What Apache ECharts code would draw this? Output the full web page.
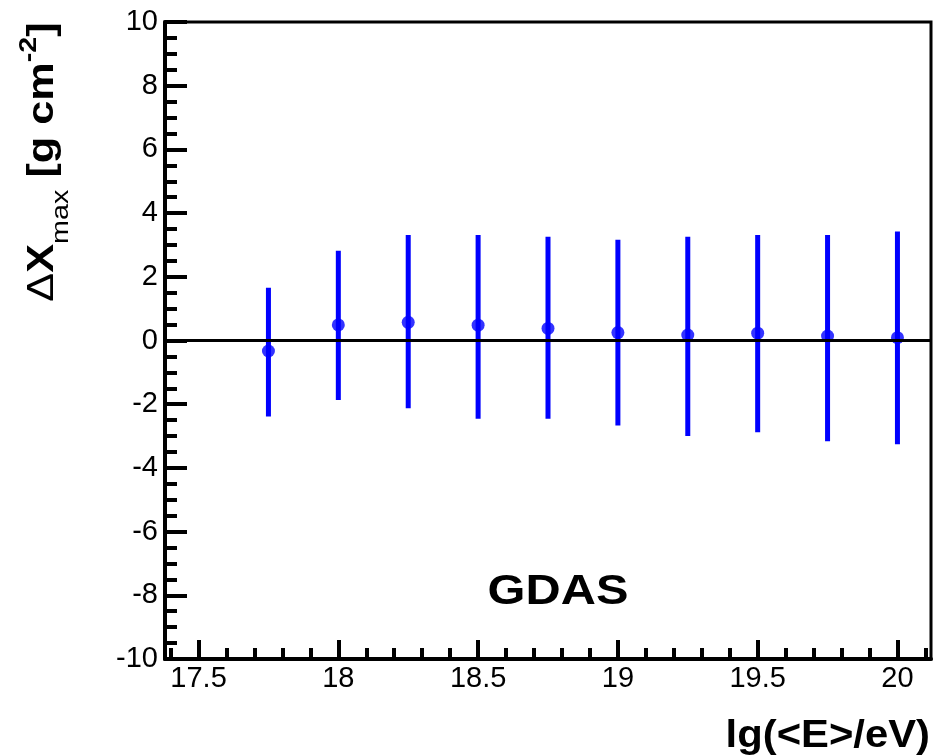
<!DOCTYPE html>
<html>
<head>
<meta charset="utf-8">
<script src="https://cdn.jsdelivr.net/npm/echarts@6/dist/echarts.min.js"></script>
<style>
  html, body { margin: 0; padding: 0; background: #fff; }
  #chart { width: 942px; height: 756px; }
</style>
</head>
<body>
<div id="chart"></div>
<script>
// Energy bins, lg(<E>/eV)
const energies = [17.75, 18.0, 18.25, 18.5, 18.75, 19.0, 19.25, 19.5, 19.75, 20.0];
// Mean shift of Xmax, g/cm^2
const deltaXmax = [-0.33, 0.49, 0.57, 0.48, 0.38, 0.25, 0.17, 0.23, 0.14, 0.09];
// Lower / upper end of each error bar, g/cm^2
const errLow  = [-2.39, -1.87, -2.13, -2.46, -2.46, -2.67, -3.00, -2.88, -3.16, -3.26];
const errHigh = [ 1.66,  2.82,  3.31,  3.31,  3.26,  3.16,  3.26,  3.31,  3.31,  3.42];

// Axis ticks
const xMajorTicks = [17.5, 18, 18.5, 19, 19.5, 20];
const xMinorTicks = [17.4, 17.6, 17.7, 17.8, 17.9, 18.1, 18.2, 18.3, 18.4, 18.6, 18.7, 18.8, 18.9,
                     19.1, 19.2, 19.3, 19.4, 19.6, 19.7, 19.8, 19.9, 20.1];
const xRange = [17.38, 20.12];
const yRange = [-10, 10];

const FONT = "'Liberation Sans', Arial, Helvetica, sans-serif";
const BLUE = '#0000ff';

const chart = echarts.init(document.getElementById('chart'), null, { renderer: 'canvas' });

const option = {
  animation: false,
  backgroundColor: '#fff',
  textStyle: { fontFamily: FONT },
  grid: {
    left: 165, right: 11, top: 22, bottom: 97,
    show: true, borderColor: '#000', borderWidth: 3, backgroundColor: 'transparent'
  },
  xAxis: [
    {
      type: 'value', min: xRange[0], max: xRange[1], position: 'bottom',
      splitLine: { show: false },
      axisLine: { show: true, onZero: false, lineStyle: { color: '#000', width: 4 } },
      axisTick: { show: true, inside: true, length: 19, lineStyle: { color: '#000', width: 4 },
                  customValues: xMajorTicks },
      axisLabel: { show: true, customValues: xMajorTicks, color: '#000', fontSize: 29,
                   fontFamily: FONT, margin: 5 }
    },
    {
      type: 'value', min: xRange[0], max: xRange[1], position: 'bottom', offset: 0,
      splitLine: { show: false },
      axisLine: { show: false, onZero: false },
      axisTick: { show: true, inside: true, length: 11, lineStyle: { color: '#000', width: 4 },
                  customValues: xMinorTicks },
      axisLabel: { show: false }
    }
  ],
  yAxis: {
    type: 'value', min: yRange[0], max: yRange[1], interval: 2,
    splitLine: { show: false },
    axisLine: { show: true, onZero: false, lineStyle: { color: '#000', width: 4 } },
    axisTick: { show: true, inside: true, length: 22, lineStyle: { color: '#000', width: 4 } },
    minorTick: { show: true, splitNumber: 4, length: 12, lineStyle: { color: '#000', width: 4 } },
    axisLabel: { color: '#000', fontSize: 29, fontFamily: FONT, margin: 7 }
  },
  series: [
    {
      type: 'custom',
      xAxisIndex: 0,
      data: energies.map((e, i) => [e, errLow[i], errHigh[i]]),
      encode: { x: 0, y: [1, 2] },
      renderItem: function (params, api) {
        const lo = api.coord([api.value(0), api.value(1)]);
        const hi = api.coord([api.value(0), api.value(2)]);
        return {
          type: 'line',
          shape: { x1: lo[0], y1: lo[1], x2: hi[0], y2: hi[1] },
          style: { stroke: BLUE, lineWidth: 5 }
        };
      },
      markLine: {
        silent: true, symbol: 'none', label: { show: false },
        lineStyle: { color: '#000', width: 3, type: 'solid' },
        data: [{ yAxis: 0 }]
      },
      z: 2
    },
    {
      type: 'scatter',
      xAxisIndex: 0,
      data: energies.map((e, i) => [e, deltaXmax[i]]),
      symbol: 'circle', symbolSize: 13,
      itemStyle: { color: BLUE },
      z: 3
    }
  ],
  graphic: [
    {
      type: 'text', x: 558, y: 592, scaleX: 1.16,
      style: { text: 'GDAS', font: 'bold 42px ' + FONT, fill: '#000', align: 'center', verticalAlign: 'middle' }
    },
    {
      type: 'text', x: 930, y: 737, scaleX: 1.1,
      style: { text: 'lg(<E>/eV)', font: 'bold 38px ' + FONT, fill: '#000', align: 'right', verticalAlign: 'middle' }
    },
    {
      type: 'text', x: 35, y: 162, rotation: Math.PI / 2, scaleX: 1.2,
      style: {
        text: '{d|Δ}{b|X}{sub|max}{b| [g cm}{sup|-2}{b|]}',
        align: 'center', verticalAlign: 'middle', fill: '#000',
        rich: {
          d:   { fontFamily: FONT, fontSize: 36, fontWeight: 'normal', lineHeight: 36, verticalAlign: 'top', padding: [8, 0, 0, 0], fill: '#000' },
          b:   { fontFamily: FONT, fontSize: 36, fontWeight: 'bold', lineHeight: 36, verticalAlign: 'top', padding: [8, 0, 0, 0], fill: '#000' },
          sub: { fontFamily: FONT, fontSize: 24, fontWeight: 'normal', lineHeight: 24, verticalAlign: 'top', padding: [32, 0, 0, 0], fill: '#000' },
          sup: { fontFamily: FONT, fontSize: 24, fontWeight: 'bold', lineHeight: 24, verticalAlign: 'top', padding: [0, 0, 0, 0], fill: '#000' }
        }
      }
    }
  ]
};

chart.setOption(option);
</script>
</body>
</html>
